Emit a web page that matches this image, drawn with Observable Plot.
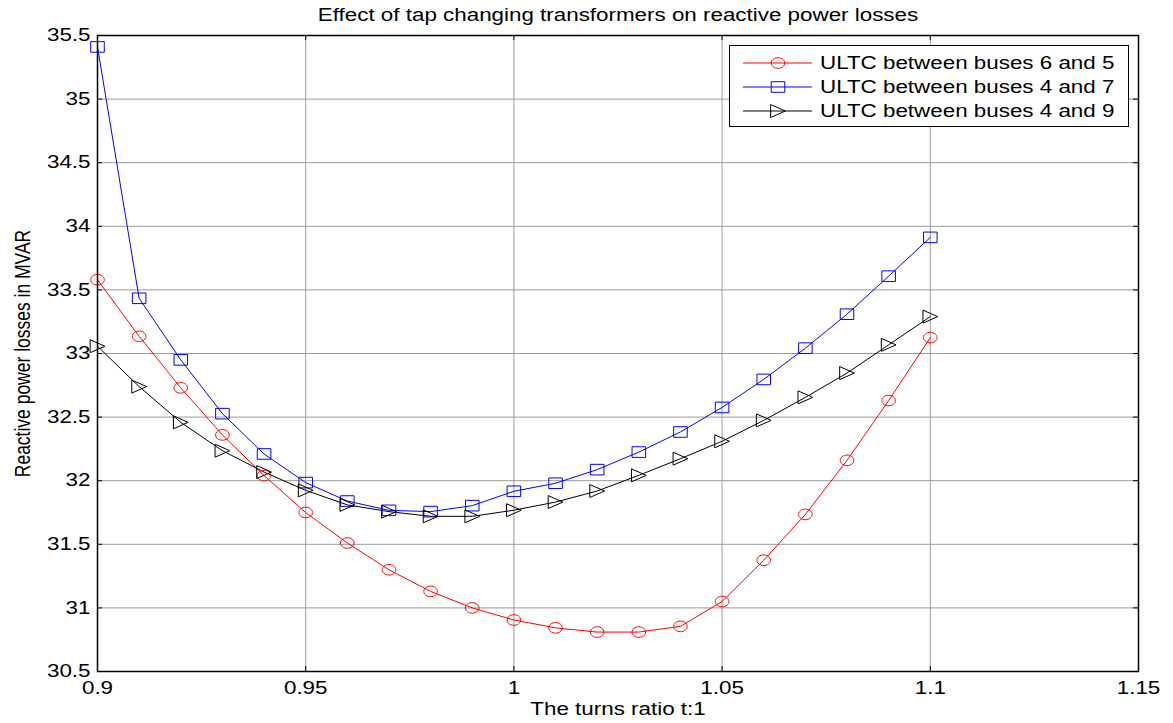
<!DOCTYPE html>
<html>
<head>
<meta charset="utf-8">
<script src="https://cdn.jsdelivr.net/npm/d3@7"></script>
<script src="https://cdn.jsdelivr.net/npm/@observablehq/plot@0.6"></script>
<style>
  html, body { margin: 0; padding: 0; background: #fff; }
  #chart svg { display: block; }
</style>
</head>
<body>
<div id="chart"></div>
<script>
// ---------- data ----------
const turnsRatio = [0.90, 0.91, 0.92, 0.93, 0.94, 0.95, 0.96, 0.97, 0.98, 0.99, 1.00,
                    1.01, 1.02, 1.03, 1.04, 1.05, 1.06, 1.07, 1.08, 1.09, 1.10];
const ultc65 = [33.58, 33.135, 32.73, 32.36, 32.04, 31.75, 31.51, 31.30, 31.13, 31.00, 30.905,
                30.843, 30.81, 30.81, 30.855, 31.05, 31.375, 31.735, 32.16, 32.63, 33.125];
const ultc47 = [35.41, 33.434, 32.95, 32.527, 32.21, 31.985, 31.84, 31.767, 31.757, 31.804, 31.917,
                31.98, 32.087, 32.225, 32.383, 32.576, 32.796, 33.042, 33.309, 33.608, 33.913];
const ultc49 = [33.057, 32.74, 32.459, 32.236, 32.068, 31.924, 31.81, 31.757, 31.72, 31.72, 31.768,
                31.832, 31.919, 32.042, 32.173, 32.31, 32.474, 32.655, 32.846, 33.068, 33.29];
const seriesNames = ["ULTC between buses 6 and 5", "ULTC between buses 4 and 7", "ULTC between buses 4 and 9"];
const seriesColors = ["#ff0000", "#0000ff", "#000000"];
const xTicks = [0.9, 0.95, 1, 1.05, 1.1, 1.15];
const yTicks = [30.5, 31, 31.5, 32, 32.5, 33, 33.5, 34, 34.5, 35, 35.5];
const titleText = "Effect of tap changing transformers on reactive power losses";
const xLabel = "The turns ratio t:1";
const yLabel = "Reactive power losses in MVAR";

// ---------- styling ----------
const SX = 1.28;            // horizontal stretch of the original picture
const FONT = "'Liberation Sans', Arial, Helvetica, sans-serif";
const FS = 17.5;
const X_DOMAIN = [0.9, 1.15], Y_DOMAIN = [30.5, 35.5];
const TICK_DX = 0.0012, TICK_DY = 0.04;   // inward tick length (~5px) in data units

// marker shapes (stretched horizontally like the original)
const ellipseSym = { draw(ctx) {
  const ry = 5.3, rx = ry * SX, k = 0.5523;
  ctx.moveTo(rx, 0);
  ctx.bezierCurveTo(rx, k * ry, k * rx, ry, 0, ry);
  ctx.bezierCurveTo(-k * rx, ry, -rx, k * ry, -rx, 0);
  ctx.bezierCurveTo(-rx, -k * ry, -k * rx, -ry, 0, -ry);
  ctx.bezierCurveTo(k * rx, -ry, rx, -k * ry, rx, 0);
  ctx.closePath();
}};
const squareSym = { draw(ctx) {
  const h = 10.6, w = h * SX;
  ctx.rect(-w / 2, -h / 2, w, h);
}};
const triRightSym = { draw(ctx) {
  const h = 13, w = 11.5 * SX;
  ctx.moveTo(-w / 2, -h / 2);
  ctx.lineTo(w / 2, 0);
  ctx.lineTo(-w / 2, h / 2);
  ctx.closePath();
}};
const symbols = [ellipseSym, squareSym, triRightSym];

// ---------- table ----------
const seriesValues = [ultc65, ultc47, ultc49];
const rows = [];
seriesValues.forEach((vals, s) => {
  turnsRatio.forEach((t, i) => rows.push({ t, v: vals[i], s: seriesNames[s] }));
});

const fmt = d => String(d);
const tickStyle = { stroke: "#000", strokeWidth: 1 };

const chart = Plot.plot({
  width: 1173,
  height: 723,
  marginLeft: 97,
  marginRight: 35,
  marginTop: 35,
  marginBottom: 52,
  style: { fontFamily: FONT, fontSize: FS + "px", background: "#fff", color: "#000" },
  x: { domain: X_DOMAIN, label: null },
  y: { domain: Y_DOMAIN, label: null },
  marks: [
    Plot.gridX(xTicks, { stroke: "#9a9a9a", strokeOpacity: 1, strokeWidth: 1 }),
    Plot.gridY(yTicks, { stroke: "#9a9a9a", strokeOpacity: 1, strokeWidth: 1 }),
    // inward ticks on all four sides
    Plot.ruleX(xTicks, { x: d => d, y1: Y_DOMAIN[0], y2: Y_DOMAIN[0] + TICK_DY, ...tickStyle }),
    Plot.ruleX(xTicks, { x: d => d, y1: Y_DOMAIN[1], y2: Y_DOMAIN[1] - TICK_DY, ...tickStyle }),
    Plot.ruleY(yTicks, { y: d => d, x1: X_DOMAIN[0], x2: X_DOMAIN[0] + TICK_DX, ...tickStyle }),
    Plot.ruleY(yTicks, { y: d => d, x1: X_DOMAIN[1], x2: X_DOMAIN[1] - TICK_DX, ...tickStyle }),
    // tick labels
    Plot.axisX(xTicks, { anchor: "bottom", tickSize: 0, tickPadding: 10, label: null, tickFormat: fmt, fontSize: FS }),
    Plot.axisY(yTicks, { anchor: "left", tickSize: 0, tickPadding: 7, label: null, tickFormat: fmt, fontSize: FS }),
    // series
    ...seriesNames.map((name, s) =>
      Plot.line(rows.filter(d => d.s === name), { x: "t", y: "v", stroke: seriesColors[s], strokeWidth: 1 })
    ),
    ...seriesNames.map((name, s) =>
      Plot.dot(rows.filter(d => d.s === name), { x: "t", y: "v", stroke: seriesColors[s], fill: "none", strokeWidth: 1, symbol: symbols[s], r: 5 })
    ),
    Plot.frame({ stroke: "#000", strokeWidth: 1.5 }),
    // titles
    Plot.text([titleText], { text: d => d, frameAnchor: "top", dy: -20, fontSize: FS, textAnchor: "middle", lineAnchor: "middle" }),
    Plot.text([xLabel], { text: d => d, frameAnchor: "bottom", dy: 38, fontSize: FS, textAnchor: "middle", lineAnchor: "middle" }),
    Plot.text([yLabel], { text: d => d, frameAnchor: "left", dx: -75, rotate: -90, fontSize: FS, textAnchor: "middle", lineAnchor: "middle" })
  ]
});

// stretch all text horizontally like the original picture
chart.querySelectorAll("text").forEach(t => {
  const tr = t.getAttribute("transform");
  if (!tr) return;
  t.setAttribute("transform", tr.includes("rotate") ? tr + ` scale(1,${SX})` : tr + ` scale(${SX},1)`);
});

// legend
const lg = d3.select(chart).append("g")
  .attr("font-family", FONT).attr("font-size", FS).attr("text-anchor", "start");
lg.append("rect")
  .attr("x", 729.5).attr("y", 45.5).attr("width", 399).attr("height", 81)
  .attr("fill", "#fff").attr("stroke", "#000").attr("stroke-width", 1);
seriesNames.forEach((name, i) => {
  const y = 63 + i * 24;
  lg.append("line").attr("x1", 743).attr("x2", 812).attr("y1", y).attr("y2", y)
    .attr("stroke", seriesColors[i]).attr("stroke-width", 1);
  lg.append("path").attr("d", d3.symbol().type(symbols[i])())
    .attr("transform", `translate(778,${y})`)
    .attr("fill", "none").attr("stroke", seriesColors[i]).attr("stroke-width", 1);
  lg.append("text").attr("transform", `translate(820,${y}) scale(${SX},1)`)
    .attr("text-anchor", "start")
    .attr("dy", "0.35em").attr("fill", "#000").text(name);
});

document.getElementById("chart").appendChild(chart);
</script>
</body>
</html>
